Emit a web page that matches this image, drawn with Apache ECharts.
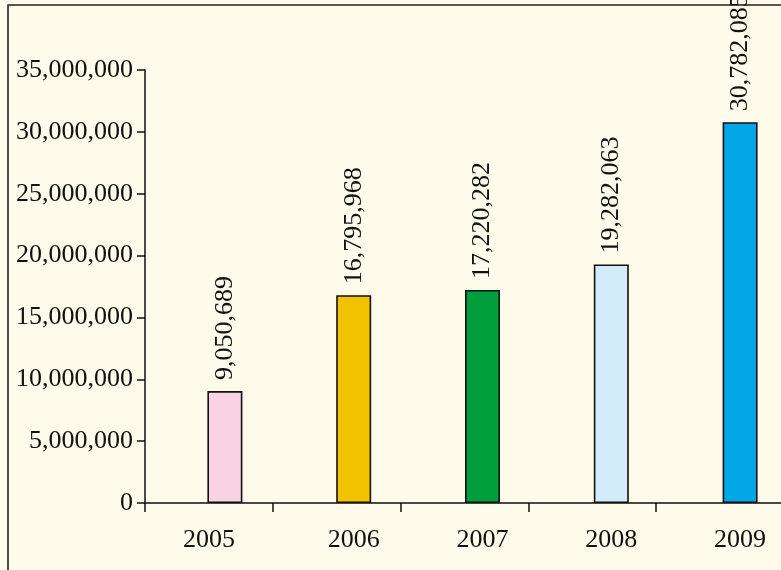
<!DOCTYPE html>
<html>
<head>
<meta charset="utf-8">
<script src="https://cdn.jsdelivr.net/npm/echarts@6/dist/echarts.min.js"></script>
<style>
html,body{margin:0;padding:0;background:#FEFBEA;overflow:hidden;width:781px;height:570px;}
#c{width:840px;height:570px;}
</style>
</head>
<body>
<div id="c"></div>
<script>
const years = ['2005', '2006', '2007', '2008', '2009'];
const values = [9050689, 16795968, 17220282, 19282063, 30782085];
const barColors = ['#F9D3E3', '#F2C200', '#009E3D', '#D4EBFA', '#00A6E6'];
const yMin = 0, yMax = 35000000, yStep = 5000000;

const fmt = v => Number(v).toLocaleString('en-US');
const font = '"Liberation Serif","Times New Roman",serif';

const chart = echarts.init(document.getElementById('c'), null, {renderer: 'canvas'});
chart.setOption({
  backgroundColor: '#FEFBEA',
  animation: false,
  graphic: [{
    type: 'rect',
    shape: {x: 8, y: 5, width: 900, height: 700},
    style: {fill: 'none', stroke: '#222', lineWidth: 1.6},
    silent: true
  }],
  grid: [
    {left: 145, top: 70, height: 433, width: 639},
    {left: 160.5, top: 70, height: 433, width: 644}
  ],
  xAxis: [
    {
      type: 'category', gridIndex: 0, data: years, boundaryGap: true,
      axisLine: {lineStyle: {color: '#111', width: 1.5}},
      axisTick: {show: true, length: 9, lineStyle: {color: '#111', width: 1.5}},
      axisLabel: {show: false}
    },
    {
      type: 'category', gridIndex: 1, data: years,
      axisLine: {show: false}, axisTick: {show: false},
      axisLabel: {
        show: true, margin: 24, color: '#111', fontFamily: font, fontSize: 26,
        formatter: (v, i) => i === 0 ? '{s|' + v + '}' : '{n|' + v + '}',
        rich: {
          s: {fontFamily: font, fontSize: 26, color: '#111', padding: [0, 32, 0, 0]},
          n: {fontFamily: font, fontSize: 26, color: '#111'}
        }
      }
    }
  ],
  yAxis: [
    {
      type: 'value', gridIndex: 0, min: yMin, max: yMax, interval: yStep,
      axisLine: {show: true, lineStyle: {color: '#111', width: 1.5}},
      axisTick: {show: true, length: 8, lineStyle: {color: '#111', width: 1.5}},
      splitLine: {show: false},
      axisLabel: {color: '#111', fontFamily: font, fontSize: 26, margin: 12, formatter: fmt}
    },
    {
      type: 'value', gridIndex: 1, min: yMin, max: yMax, interval: yStep,
      show: false, splitLine: {show: false}
    }
  ],
  series: [{
    type: 'bar',
    xAxisIndex: 1, yAxisIndex: 1,
    barWidth: 35,
    data: values.map((v, i) => ({
      value: v,
      itemStyle: {color: barColors[i], borderColor: '#111', borderWidth: 1.6}
    })),
    label: {
      show: true, position: 'top', rotate: 90, distance: 11,
      align: 'left', verticalAlign: 'middle',
      color: '#111', fontFamily: font, fontSize: 26,
      formatter: p => fmt(p.value)
    }
  }]
});
</script>
</body>
</html>
